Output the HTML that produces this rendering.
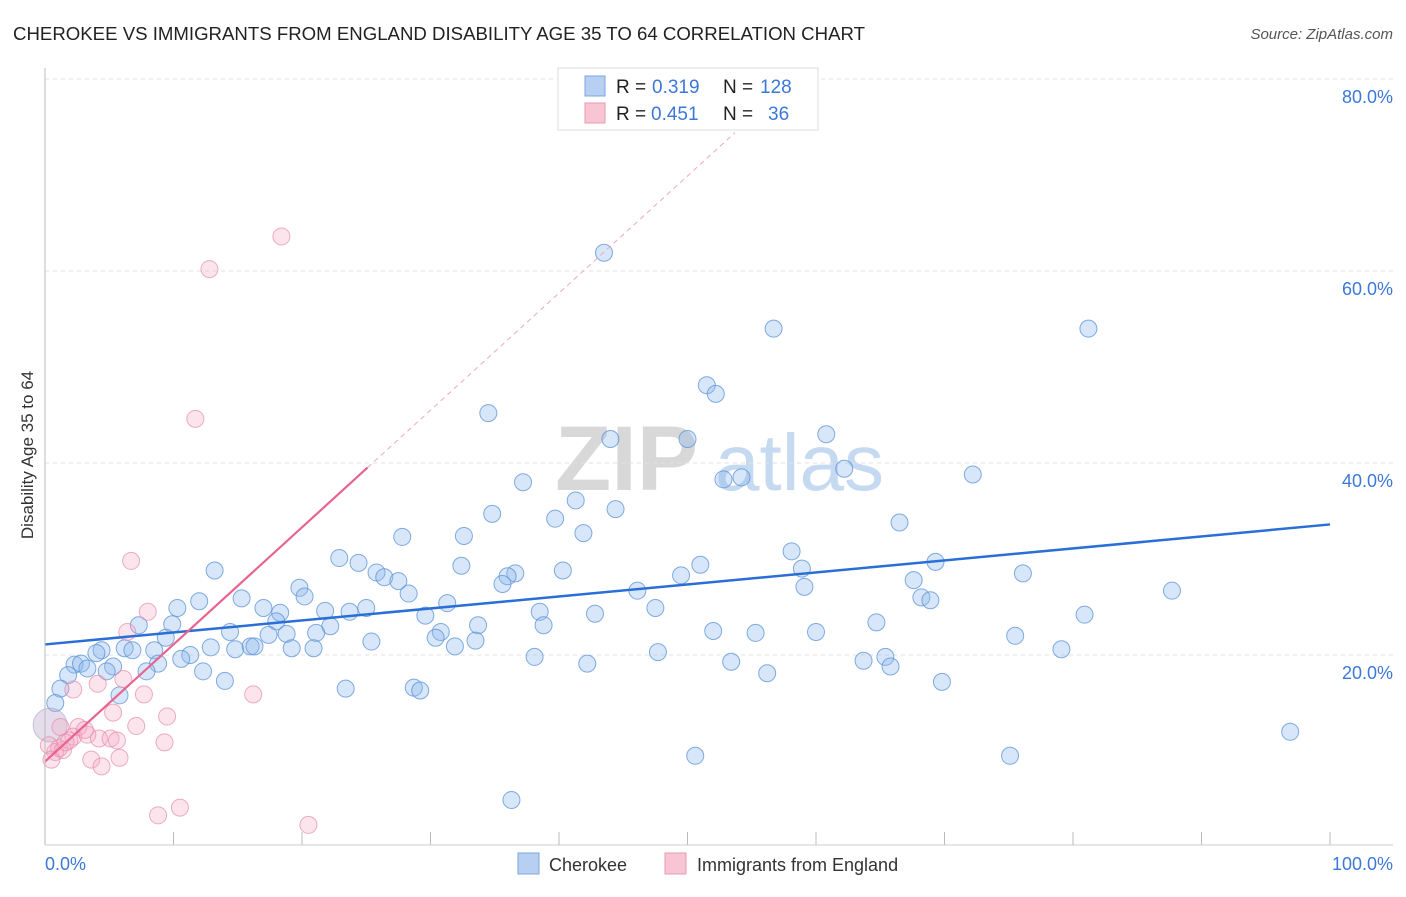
<!DOCTYPE html>
<html><head><meta charset="utf-8"><style>
body{margin:0;background:#fff;font-family:"Liberation Sans",sans-serif;}
svg text{font-family:"Liberation Sans",sans-serif;}
</style></head><body>
<svg id="c" width="1406" height="892">
<text x="13" y="40" font-size="18" fill="#222" textLength="852" lengthAdjust="spacingAndGlyphs">CHEROKEE VS IMMIGRANTS FROM ENGLAND DISABILITY AGE 35 TO 64 CORRELATION CHART</text>
<text x="1393" y="39" font-size="15" fill="#555" font-style="italic" text-anchor="end">Source: ZipAtlas.com</text>
<g><text x="555" y="490" font-size="92" fill="#d8d8d8" font-family="Liberation Serif" font-weight="bold">ZIP</text><text x="715" y="490" font-size="80" fill="#c5d9f0">atlas</text></g>
<g id="grid"></g><g id="pts"></g><g id="lines"></g>
<line x1="45" y1="68" x2="45" y2="845" stroke="#bbb"/>
<line x1="45" y1="845" x2="1393" y2="845" stroke="#ccc"/>
<text transform="translate(33,455) rotate(-90)" font-size="17" fill="#333" text-anchor="middle">Disability Age 35 to 64</text>
<text x="45" y="870" font-size="18" fill="#3b78d8">0.0%</text>
<text x="1393" y="870" font-size="18" fill="#3b78d8" text-anchor="end">100.0%</text>
<g>
<rect x="558" y="68" width="260" height="62" fill="#fff" stroke="#ddd"/>
<rect x="585" y="76" width="20" height="20" fill="#b7d0f2" stroke="#7aa6e0"/>
<rect x="585" y="103" width="20" height="20" fill="#f8c5d4" stroke="#e99ab2"/>
<text x="616" y="93" font-size="19" fill="#222">R =</text><text x="652" y="93" font-size="19" fill="#3b78d8">0.319</text>
<text x="723" y="93" font-size="19" fill="#222">N =</text><text x="760" y="93" font-size="19" fill="#3b78d8">128</text>
<text x="616" y="120" font-size="19" fill="#222">R =</text><text x="651" y="120" font-size="19" fill="#3b78d8">0.451</text>
<text x="723" y="120" font-size="19" fill="#222">N =</text><text x="768" y="120" font-size="19" fill="#3b78d8">36</text>
</g>
<g>
<rect x="518" y="853" width="21" height="21" fill="#b7d0f2" stroke="#7aa6e0"/>
<text x="549" y="871" font-size="18" fill="#333">Cherokee</text>
<rect x="665" y="853" width="21" height="21" fill="#f8c5d4" stroke="#e99ab2"/>
<text x="697" y="871" font-size="18" fill="#333">Immigrants from England</text>
</g>
</svg>
<script>
const yTicks=[20,40,60,80];
const xTicks=[0,10,20,30,40,50,60,70,80,90,100];
const blueX=[43.5,56.7,81.2,51.5,52.2,34.5,44.0,50.0,60.8,52.8,54.2,62.2,72.2,37.2,41.3,34.8,39.7,44.4,66.5,27.8,32.6,41.9,58.1,22.9,24.4,51.0,69.3,13.2,25.8,26.4,27.5,32.4,36.6,36.0,35.6,40.3,58.9,76.1,49.5,67.6,19.8,20.2,28.3,15.3,12.0,10.3,17.0,18.3,21.8,23.7,25.0,31.3,46.1,47.5,59.1,68.2,68.9,87.7,80.9,7.3,9.9,18.0,22.2,29.6,38.5,42.8,64.7,38.8,33.7,14.4,17.4,18.8,21.1,30.8,30.4,52.0,55.3,60.0,75.5,9.4,6.2,8.5,12.9,14.8,16.0,16.3,19.2,20.9,25.4,31.9,33.5,4.4,4.0,11.3,10.6,6.8,47.7,38.1,79.1,63.7,65.4,65.8,2.3,2.8,3.3,5.3,4.8,8.8,7.9,12.3,42.2,53.4,56.2,1.8,1.2,5.8,14.0,23.4,28.7,29.2,69.8,0.8,96.9,50.6,75.1,36.3,0.4];
const blueY=[61.9,54.0,54.0,48.1,47.2,45.2,42.5,42.5,43.0,38.3,38.5,39.4,38.8,38.0,36.1,34.7,34.2,35.2,33.8,32.3,32.4,32.7,30.8,30.1,29.6,29.4,29.7,28.8,28.6,28.1,27.7,29.3,28.5,28.2,27.4,28.8,29.0,28.5,28.3,27.8,27.0,26.1,26.4,25.9,25.6,24.9,24.9,24.4,24.6,24.5,24.9,25.4,26.7,24.9,27.1,26.0,25.7,26.7,24.2,23.1,23.2,23.5,23.0,24.1,24.5,24.3,23.4,23.1,23.1,22.4,22.1,22.2,22.3,22.4,21.8,22.5,22.3,22.4,22.0,21.8,20.7,20.5,20.8,20.6,20.9,20.9,20.7,20.7,21.4,20.9,21.5,20.5,20.2,20.0,19.6,20.5,20.3,19.8,20.6,19.4,19.8,18.8,19.0,19.1,18.6,18.8,18.3,19.1,18.3,18.3,19.1,19.3,18.1,17.9,16.5,15.8,17.3,16.5,16.6,16.3,17.2,15.0,12.0,9.5,9.5,4.9,12.7];
const pinkX=[18.4,12.8,11.7,6.7,8.0,6.4,2.2,4.1,6.1,7.7,16.2,5.3,9.5,1.2,2.6,7.1,2.2,3.3,4.2,5.1,5.6,9.3,0.3,1.1,0.8,1.4,3.6,5.8,4.4,10.5,8.8,20.5,3.1,1.9,0.5,1.6];
const pinkY=[63.6,60.2,44.6,29.8,24.5,22.4,16.4,17.0,17.5,15.9,15.9,14.0,13.6,12.5,12.5,12.6,11.5,11.7,11.3,11.3,11.1,10.9,10.6,10.3,9.9,10.1,9.1,9.3,8.4,4.1,3.3,2.3,12.2,11.1,9.1,10.9];
const blueLine=[21.1,33.6];
const pinkLine=[8.9,1.22];
const NS='http://www.w3.org/2000/svg';
const sx=v=>45+v*12.85, sy=v=>847-v*9.6;
function mk(t,a,p){const e=document.createElementNS(NS,t);for(const k in a)e.setAttribute(k,a[k]);p.appendChild(e);return e;}
const grid=document.getElementById('grid'),pts=document.getElementById('pts'),lines=document.getElementById('lines'),svg=document.getElementById('c');
yTicks.forEach(v=>{
 const l=mk('line',{x1:45,x2:1393,y1:sy(v),y2:sy(v),stroke:'#e2e2e2','stroke-dasharray':'4,4'},grid);
 
 
 const t=mk('text',{x:1393,y:sy(v)+24,'font-size':18,fill:'#3b78d8','text-anchor':'end'},svg);
 t.textContent=v.toFixed(1)+'%';
 
 
});
xTicks.forEach(v=>{
 const l=mk('line',{x1:sx(v),x2:sx(v),y1:832,y2:845,stroke:'#bbb'},grid);
 
 
});
blueX.forEach((x,i)=>{
 const big=i===blueX.length-1;
 const c=mk('circle',{cx:sx(x),cy:sy(blueY[i]),r:big?17:8.5,fill:big?'rgba(190,170,205,0.4)':'rgba(140,182,236,0.35)',stroke:big?'rgba(150,150,200,0.5)':'rgba(90,145,215,0.75)','stroke-width':1},pts);
 
 
});
pinkX.forEach((x,i)=>{
 const c=mk('circle',{cx:sx(x),cy:sy(pinkY[i]),r:8.5,fill:'rgba(245,165,195,0.3)',stroke:'rgba(230,140,170,0.7)','stroke-width':1},pts);
 
 
});
const bl=mk('line',{x1:sx(0),y1:sy(blueLine[0]),x2:sx(100),y2:sy(blueLine[1]),stroke:'#2a6fd6','stroke-width':2.5},lines);


const pl=mk('line',{x1:sx(0),y1:sy(pinkLine[0]),x2:sx(25.1),y2:sy(pinkLine[0]+pinkLine[1]*25.1),stroke:'#e8648e','stroke-width':2.2},lines);


const pd=mk('line',{x1:sx(25.1),y1:sy(pinkLine[0]+pinkLine[1]*25.1),x2:sx(53.7),y2:sy(pinkLine[0]+pinkLine[1]*53.7),stroke:'#eeaabb','stroke-width':1,'stroke-dasharray':'5,4'},lines);


</script>
</body></html>
